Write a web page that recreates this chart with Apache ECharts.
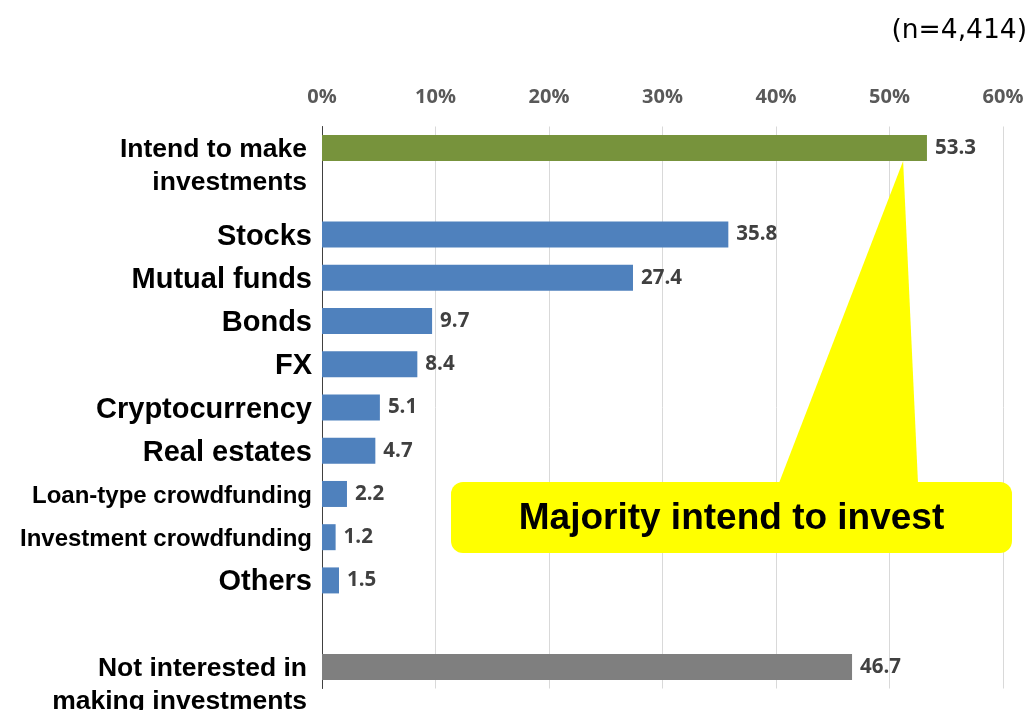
<!DOCTYPE html>
<html>
<head>
<meta charset="utf-8">
<script src="https://cdn.jsdelivr.net/npm/echarts@6/dist/echarts.min.js"></script>
<style>
  html, body { margin: 0; padding: 0; background: #ffffff; }
  #chart { width: 1029px; height: 710px; }
</style>
</head>
<body>
<div id="chart"></div>
<script>
// Investment intentions (%), n = 4,414
const intendLabel = 'Intend to make\ninvestments';
const intendValue = 53.3;
const assetLabels = ['Stocks', 'Mutual funds', 'Bonds', 'FX', 'Cryptocurrency', 'Real estates',
  'Loan-type crowdfunding', 'Investment crowdfunding', 'Others'];
const assetValues = [35.8, 27.4, 9.7, 8.4, 5.1, 4.7, 2.2, 1.2, 1.5];
const notInterestedLabel = 'Not interested in\nmaking investments';
const notInterestedValue = 46.7;
const tickLabels = ['0%', '10%', '20%', '30%', '40%', '50%', '60%'];
const sampleNote = '(n=4,414)';
const calloutText = 'Majority intend to invest';
const calloutPointAt = 51.2; // value on the summary bar the callout points to

const GREEN = '#77933C';
const BLUE = '#4F81BD';
const GRAY = '#7F7F7F';
const BAR_WIDTH = 26;

// Rows in drawing order; an empty row separates the summary bars from the breakdown
const rows = [];
rows.push({ name: intendLabel, value: intendValue, color: GREEN });
rows.push({ name: '', value: null });
assetLabels.forEach((n, i) => rows.push({ name: n, value: assetValues[i], color: BLUE }));
rows.push({ name: ' ', value: null });
rows.push({ name: notInterestedLabel, value: notInterestedValue, color: GRAY });

const chart = echarts.init(document.getElementById('chart'), null, { renderer: 'canvas' });

function categoryLabel(value) {
  if (value.trim() === '') return '';
  if (value.indexOf('\n') >= 0) {
    // first line sits level with its bar
    return '{gap| }\n' + value.split('\n').map(l => '{two|' + l + '}').join('\n');
  }
  if (value.length > 16) return '{small|' + value + '}';
  return '{big|' + value + '}';
}

chart.setOption({
  animation: false,
  backgroundColor: '#ffffff',
  grid: { left: 322, right: 26, top: 126.5, bottom: 21.5, containLabel: false, outerBoundsMode: 'none' },
  xAxis: {
    type: 'value',
    position: 'top',
    min: 0,
    max: 60,
    interval: 10,
    axisLine: { show: false },
    axisTick: { show: false },
    splitLine: { show: true, lineStyle: { color: '#D9D9D9', width: 1 } },
    axisLabel: {
      margin: 19,
      formatter: v => tickLabels[Math.round(v / 10)],
      fontFamily: 'Open Sans',
      fontWeight: 'bold',
      fontSize: 20,
      color: '#595959'
    }
  },
  yAxis: {
    type: 'category',
    inverse: true,
    data: rows.map(r => r.name),
    axisTick: { show: false },
    axisLine: { show: true, lineStyle: { color: '#404040', width: 1 } },
    splitLine: { show: false },
    axisLabel: {
      interval: 0,
      margin: 10,
      formatter: categoryLabel,
      rich: {
        gap: { fontSize: 2, lineHeight: 33 },
        big: { fontFamily: 'Liberation Sans', fontWeight: 'bold', fontSize: 29, color: '#000000', lineHeight: 34, padding: [4, 0, 0, 0] },
        two: { fontFamily: 'Liberation Sans', fontWeight: 'bold', fontSize: 26.5, color: '#000000', lineHeight: 33, padding: [3, 5, 0, 0] },
        small: { fontFamily: 'Liberation Sans', fontWeight: 'bold', fontSize: 24, color: '#000000', lineHeight: 30, padding: [4, 0, 0, 0] }
      }
    }
  },
  series: [{
    type: 'bar',
    barWidth: BAR_WIDTH,
    data: rows.map(r => r.value == null ? '-' : { value: r.value, itemStyle: { color: r.color } }),
    label: {
      show: true,
      position: 'right',
      distance: 8,
      formatter: p => (typeof p.value === 'number' ? p.value.toFixed(1) : ''),
      fontFamily: 'Open Sans',
      fontWeight: 'bold',
      fontSize: 20.5,
      color: '#404040'
    }
  }]
});

// Callout pointing at the summary bar
const tip = chart.convertToPixel({ xAxisIndex: 0, yAxisIndex: 0 }, [calloutPointAt, intendLabel]);
const box = { x: 451, y: 482, width: 561, height: 71 };
chart.setOption({
  graphic: [
    {
      type: 'polygon', z: 100,
      shape: { points: [[tip[0], tip[1] + BAR_WIDTH / 2], [779, box.y + 1], [918, box.y + 1]] },
      style: { fill: '#FFFF00' }
    },
    {
      type: 'rect', z: 100,
      shape: { x: box.x, y: box.y, width: box.width, height: box.height, r: 12 },
      style: { fill: '#FFFF00' }
    },
    {
      type: 'text', z: 101,
      x: box.x + box.width / 2, y: 519,
      style: {
        text: calloutText, fill: '#000000',
        font: 'bold 37px "Liberation Sans"',
        align: 'center', verticalAlign: 'middle'
      }
    },
    {
      type: 'text', z: 101,
      x: 1027, y: 31,
      style: {
        text: sampleNote, fill: '#000000',
        font: '26.5px "DejaVu Sans"',
        align: 'right', verticalAlign: 'middle'
      }
    }
  ]
});
</script>
</body>
</html>
